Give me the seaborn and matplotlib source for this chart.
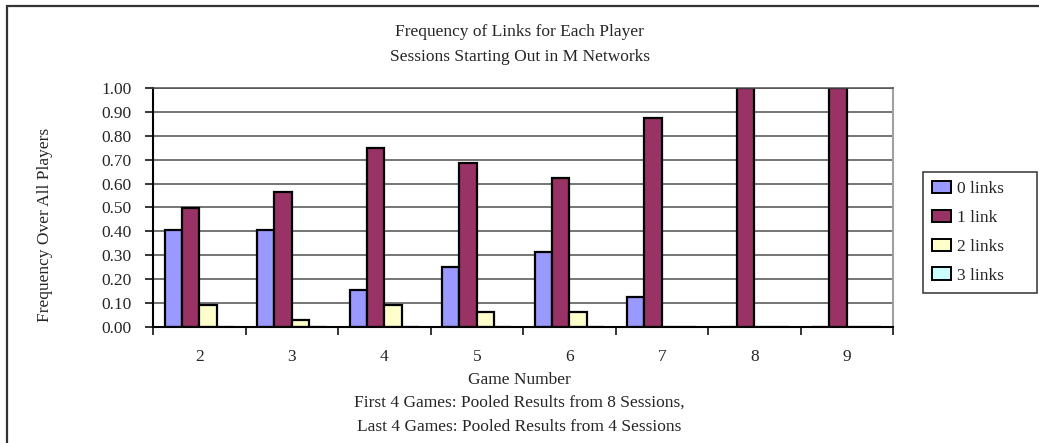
import matplotlib
matplotlib.use("Agg")
import matplotlib.pyplot as plt
import seaborn as sns
import pandas as pd
import numpy as np
from matplotlib.patches import Rectangle, Patch
from matplotlib.ticker import FixedLocator, MultipleLocator, FormatStrFormatter

# ---- data ----
games = ["2", "3", "4", "5", "6", "7", "8", "9"]
link_labels = ["0 links", "1 link", "2 links", "3 links"]
zero_links = [0.406, 0.406, 0.156, 0.250, 0.313, 0.125, 0.000, 0.000]
one_link = [0.500, 0.563, 0.750, 0.688, 0.625, 0.875, 1.000, 1.000]
two_links = [0.094, 0.031, 0.094, 0.063, 0.063, 0.000, 0.000, 0.000]
three_links = [0.000, 0.000, 0.000, 0.000, 0.000, 0.000, 0.000, 0.000]
bar_colors = ["#9999FF", "#993366", "#FFFFCC", "#CCFFFF"]

title_lines = ["Frequency of Links for Each Player", "Sessions Starting Out in M Networks"]
xlabel_lines = ["Game Number",
                "First 4 Games: Pooled Results from 8 Sessions,",
                "Last 4 Games: Pooled Results from 4 Sessions"]
ylabel = "Frequency Over All Players"

series = [zero_links, one_link, two_links, three_links]
rows = []
for lab, vals in zip(link_labels, series):
    for g, v in zip(games, vals):
        rows.append({"Game": g, "Links": lab, "Frequency": v})
df = pd.DataFrame(rows)

sns.set_style("white")
plt.rcParams["font.family"] = ["Liberation Serif", "DejaVu Serif"]

W, H = 1039, 443
fig = plt.figure(figsize=(W / 100, H / 100), dpi=100)
ax = fig.add_axes([153 / W, 1 - 327 / H, (893 - 153) / W, (327 - 88) / H])

palette = dict(zip(link_labels, bar_colors))
sns.barplot(data=df, x="Game", y="Frequency", hue="Links", order=games,
            hue_order=link_labels, palette=palette, edgecolor="black",
            linewidth=1.6, width=0.75, errorbar=None, legend=False, ax=ax,
            saturation=1)

ax.set_xlim(-0.5, len(games) - 0.5)
ax.set_ylim(0, 1.0)
ax.yaxis.set_major_locator(MultipleLocator(0.1))
ax.yaxis.set_major_formatter(FormatStrFormatter("%.2f"))
ax.set_axisbelow(True)
ax.grid(axis="y", color="#505050", linewidth=1.1)
ax.grid(axis="x", visible=False)
ax.set_xlabel("")
ax.set_ylabel("")

fs = 12.5
ax.tick_params(axis="y", which="major", direction="out", length=5.5, width=1.1,
               color="black", pad=10, labelsize=fs, left=True)
ax.tick_params(axis="x", which="major", length=0, pad=16, labelsize=fs)
ax.xaxis.set_minor_locator(FixedLocator(np.arange(-0.5, len(games), 1.0)))
ax.tick_params(axis="x", which="minor", direction="out", length=5.5, width=1.1,
               color="black", bottom=True)

for s in ["left", "bottom"]:
    ax.spines[s].set_color("black")
    ax.spines[s].set_linewidth(1.5)
ax.spines["right"].set_color("#a0a0a0")
ax.spines["right"].set_linewidth(1.5)
ax.spines["top"].set_color("#505050")
ax.spines["top"].set_linewidth(1.1)

# titles
fig.text(0.5, 1 - 32 / H, title_lines[0], ha="center", va="center", fontsize=fs)
fig.text(0.5, 1 - 57 / H, title_lines[1], ha="center", va="center", fontsize=fs)
# x label lines
for yy, t in zip([380, 403, 427], xlabel_lines):
    fig.text(0.5, 1 - yy / H, t, ha="center", va="center", fontsize=fs)
# y label
fig.text(45 / W, 1 - 225 / H, ylabel, ha="center", va="center",
         rotation=90, fontsize=fs)

# legend
handles = [Patch(facecolor=c, edgecolor="black", linewidth=1.4) for c in bar_colors]
leg = fig.legend(handles, link_labels, loc="upper left",
                 bbox_to_anchor=(923 / W, 1 - 291 / H, (1037 - 923) / W, (291 - 172) / H),
                 bbox_transform=fig.transFigure, mode="expand", borderaxespad=0,
                 fontsize=fs, frameon=True, fancybox=False, shadow=False,
                 handlelength=1.1, handleheight=0.75, handletextpad=0.35,
                 labelspacing=0.72, borderpad=0.5)
leg.get_frame().set_edgecolor("black")
leg.get_frame().set_linewidth(1.1)

# outer border
fig.patches.append(Rectangle((7 / W, -0.05), 1.2, 1 - 6 / H + 0.05,
                             transform=fig.transFigure, fill=False,
                             edgecolor="#333333", linewidth=1.6))

fig.savefig("out.png", dpi=100)
